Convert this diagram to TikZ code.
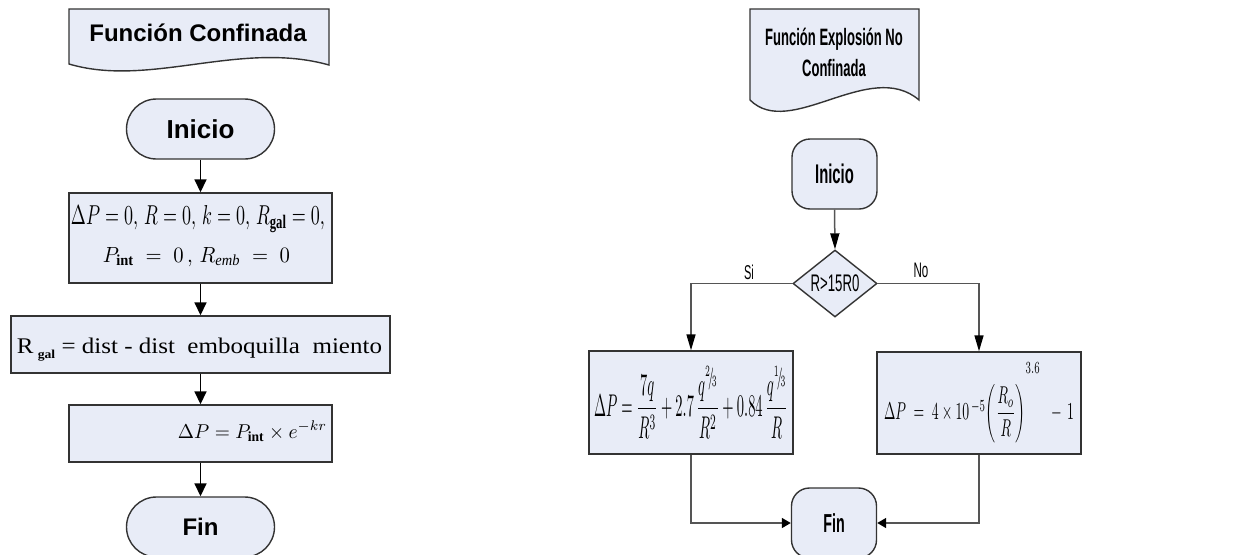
\documentclass[tikz,border=0pt]{standalone}
\usepackage{amsmath}
\usepackage{fontspec}
\usepackage{graphicx}
\usetikzlibrary{arrows.meta,shapes.geometric}
\setmainfont{Liberation Serif}
\newfontfamily\arialf{Liberation Sans}
\newfontfamily\narrowf[FakeStretch=0.55]{Liberation Sans}
\definecolor{fillc}{HTML}{E8ECF7}
\definecolor{linec}{HTML}{333333}
\definecolor{connc}{HTML}{555555}
\newcommand\nf[2]{\raisebox{0.5ex}{$\scriptscriptstyle #1$}\!/\!\raisebox{-0.2ex}{$\scriptscriptstyle #2$}}
\begin{document}
\begin{tikzpicture}[x=1pt,y=-1pt,
  box/.style={draw=linec, line width=1.4pt, fill=fillc, inner sep=0pt},
  termL/.style={box, rounded corners=30pt, minimum width=148pt, minimum height=60pt},
  termR/.style={box, rounded corners=18pt, minimum width=85pt, minimum height=70pt},
  arr/.style={-{Triangle[length=13pt,width=12pt,color=black]}, line width=1.6pt, draw=black},
  arrV/.style={-{Triangle[length=16pt,width=9pt,color=black]}, line width=1.5pt, draw=connc},
  arrH/.style={-{Triangle[length=9pt,width=10pt,color=black]}, line width=1.5pt, draw=connc},
  txt/.style={anchor=base, inner sep=0pt}]
\path[fill=white] (0,0) rectangle (1241,554);
\useasboundingbox (0,0) rectangle (1241,554);

% ---------- left flowchart ----------
\draw[box] (69,9) -- (329,9) -- (329,65) .. controls (240,40) and (150,88) .. (69,64) -- cycle;
\node[txt] (tL) at (198,41) {\arialf\bfseries\fontsize{24}{28}\selectfont Función Confinada};

\node[termL] (iniL) at (200.5,129) {\arialf\bfseries\fontsize{26}{30}\selectfont Inicio};

\node[box, minimum width=263pt, minimum height=90pt] (b1) at (200.5,238) {};
\node[txt] (b1a) at (198,224) {\resizebox{254pt}{19pt}{$\Delta P=0,\,R=0,\,k=0,\,R_{\mathbf{gal}}=0,$}};
\node[txt] (b1b) at (196.5,262) {\resizebox{187pt}{15pt}{$P_{\mathbf{int}}\;=\;0\,,\,R_{\mathit{emb}}\;=\;0$}};

\node[box, minimum width=379pt, minimum height=57pt] (b2) at (200.5,344.5) {};
\node[txt] (b2t) at (199.5,353) {\resizebox{365pt}{15.5pt}{\fontsize{22}{26}\selectfont R\,\raisebox{-5pt}{\fontsize{12}{12}\selectfont\bfseries gal} = dist\ -\ dist\ \ emboquilla\ \ miento}};

\node[box, minimum width=263pt, minimum height=57pt] (b3) at (200.5,433.5) {};
\node[txt] (b3t) at (252.5,438) {\resizebox{149pt}{17pt}{$\Delta P=P_{\mathbf{int}}\times e^{-kr}$}};

\node[termL] (finL) at (200.5,527) {\arialf\bfseries\fontsize{24}{28}\selectfont Fin};

\draw[arr] (iniL.south) -- (b1.north);
\draw[arr] (b1.south) -- (b2.north);
\draw[arr] (b2.south) -- (b3.north);
\draw[arr] (b3.south) -- (finL.north);

% ---------- right flowchart ----------
\draw[box] (750,9) -- (919,9) -- (919,100) .. controls (870,58) and (790,140) .. (750,100) -- cycle;
\node[txt] (tR1) at (834,45) {\narrowf\bfseries\fontsize{23.7}{28}\selectfont Función Explosión No};
\node[txt] (tR2) at (834,76) {\narrowf\bfseries\fontsize{23.7}{28}\selectfont Confinada};

\node[termR] (iniR) at (834.5,174) {\narrowf\bfseries\fontsize{27}{30}\selectfont Inicio};

\node[box, diamond, aspect=1.25, minimum width=84pt, minimum height=67pt] (dia) at (835,283.5) {\narrowf\fontsize{24}{28}\selectfont R>15R0};

\node[box, minimum width=204pt, minimum height=103pt] (bL) at (691,402.5)
  {\resizebox{194pt}{50pt}{$\Delta P=\dfrac{7q}{R^{3}}+2.7\,\dfrac{q^{\nf{2}{3}}}{R^{2}}+0.84\,\dfrac{q^{\nf{1}{3}}}{R}$}};
\node[box, minimum width=204pt, minimum height=102pt] (bR) at (979,403)
  {\resizebox{190pt}{57pt}{$\Delta P\;=\;4\times 10^{\,-5}\!\left(\dfrac{R_{o}}{R}\right)^{\raisebox{1.5ex}{$\scriptstyle 3.6$}}\;\;-\,1$}};

\node[termR] (finR) at (834,523) {\narrowf\bfseries\fontsize{26}{30}\selectfont Fin};

\node[txt] (si) at (749,279) {\narrowf\fontsize{20}{24}\selectfont Si};
\node[txt] (no) at (921,277) {\narrowf\fontsize{21}{24}\selectfont No};

\draw[arrV] (iniR.south) -- (dia.north);
\draw[arrV] (dia.west) -| (bL.north);
\draw[arrV] (dia.east) -| (bR.north);
\draw[arrH] (bL.south) |- (finR.west);
\draw[arrH] (bR.south) |- (finR.east);
\end{tikzpicture}
\end{document}
